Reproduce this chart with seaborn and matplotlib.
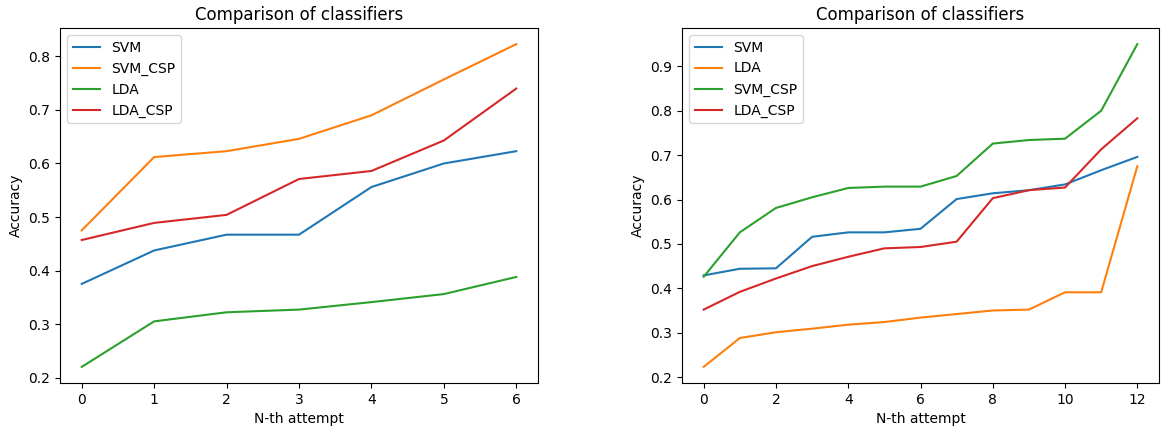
import matplotlib
matplotlib.use("Agg")
import matplotlib.pyplot as plt
import seaborn as sns
import pandas as pd

# Left panel data
left_names = ["SVM", "SVM_CSP", "LDA", "LDA_CSP"]
left_svm = [0.375, 0.4375, 0.467, 0.467, 0.556, 0.600, 0.623]
left_svm_csp = [0.475, 0.612, 0.623, 0.646, 0.690, 0.757, 0.823]
left_lda = [0.220, 0.305, 0.322, 0.327, 0.341, 0.356, 0.388]
left_lda_csp = [0.457, 0.489, 0.504, 0.571, 0.586, 0.643, 0.740]

# Right panel data
right_names = ["SVM", "LDA", "SVM_CSP", "LDA_CSP"]
right_svm = [0.429, 0.444, 0.445, 0.516, 0.526, 0.526, 0.534, 0.601, 0.614, 0.621, 0.634, 0.666, 0.696]
right_lda = [0.223, 0.288, 0.301, 0.309, 0.318, 0.324, 0.334, 0.342, 0.350, 0.352, 0.391, 0.391, 0.675]
right_svm_csp = [0.426, 0.526, 0.581, 0.605, 0.626, 0.629, 0.629, 0.653, 0.726, 0.734, 0.737, 0.800, 0.950]
right_lda_csp = [0.352, 0.392, 0.422, 0.450, 0.471, 0.490, 0.493, 0.505, 0.603, 0.621, 0.627, 0.713, 0.783]

title = "Comparison of classifiers"
xlabel = "N-th attempt"
ylabel = "Accuracy"


def long_df(names, series):
    rows = []
    for n, s in zip(names, series):
        for i, v in enumerate(s):
            rows.append({"attempt": i, "acc": v, "clf": n})
    return pd.DataFrame(rows)


fig = plt.figure(figsize=(11.65, 4.28), dpi=100)
ax1 = fig.add_axes([60 / 1165, 1 - 383 / 428, 478 / 1165, 355 / 428])
ax2 = fig.add_axes([682 / 1165, 1 - 383 / 428, 477 / 1165, 355 / 428])

colors = ["#1f77b4", "#ff7f0e", "#2ca02c", "#d62728"]

df1 = long_df(left_names, [left_svm, left_svm_csp, left_lda, left_lda_csp])
sns.lineplot(data=df1, x="attempt", y="acc", hue="clf", hue_order=left_names,
             palette=colors, ax=ax1, linewidth=1.5)
df2 = long_df(right_names, [right_svm, right_lda, right_svm_csp, right_lda_csp])
sns.lineplot(data=df2, x="attempt", y="acc", hue="clf", hue_order=right_names,
             palette=colors, ax=ax2, linewidth=1.5)

for ax in (ax1, ax2):
    ax.set_title(title, fontsize=12)
    ax.set_xlabel(xlabel)
    ax.set_ylabel(ylabel)
    h, l = ax.get_legend_handles_labels()
    ax.legend(h, l, loc="upper left")

fig.savefig("out.png", dpi=100)
